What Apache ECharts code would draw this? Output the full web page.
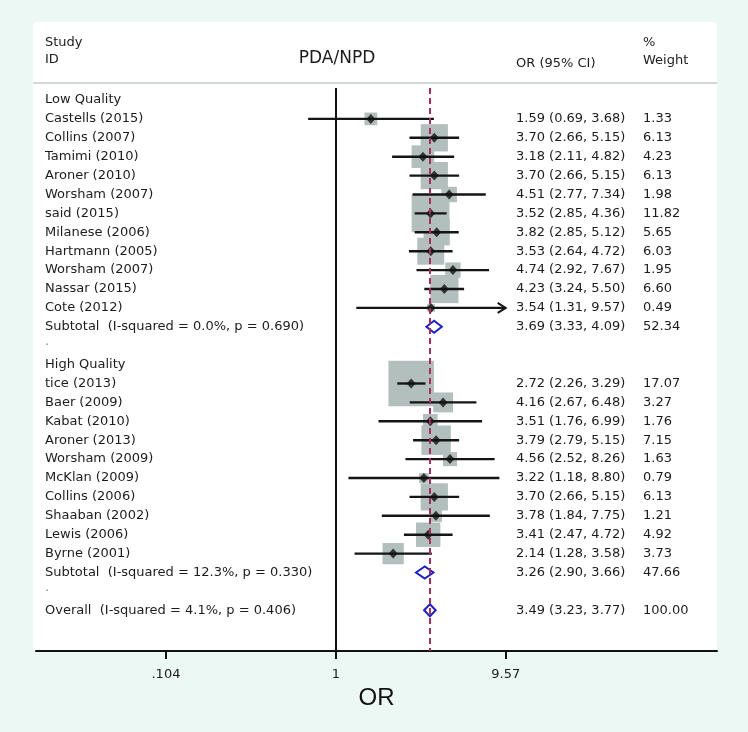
<!DOCTYPE html>
<html><head><meta charset="utf-8">
<script src="https://cdn.jsdelivr.net/npm/echarts@6/dist/echarts.min.js"></script>
<style>html,body{margin:0;padding:0;background:#ecf8f4;}#c{width:748px;height:732px;}</style>
</head><body><div id="c"></div>
<script>
// ---------- data ----------
const groupTitles = ['Low Quality', 'High Quality'];

const lowStudies = ['Castells (2015)', 'Collins (2007)', 'Tamimi (2010)', 'Aroner (2010)', 'Worsham (2007)', 'said (2015)', 'Milanese (2006)', 'Hartmann (2005)', 'Worsham (2007)', 'Nassar (2015)', 'Cote (2012)'];
const lowOR     = [1.59, 3.70, 3.18, 3.70, 4.51, 3.52, 3.82, 3.53, 4.74, 4.23, 3.54];
const lowLo     = [0.69, 2.66, 2.11, 2.66, 2.77, 2.85, 2.85, 2.64, 2.92, 3.24, 1.31];
const lowHi     = [3.68, 5.15, 4.82, 5.15, 7.34, 4.36, 5.12, 4.72, 7.67, 5.50, 9.57];
const lowWeight = [1.33, 6.13, 4.23, 6.13, 1.98, 11.82, 5.65, 6.03, 1.95, 6.60, 0.49];

const highStudies = ['tice (2013)', 'Baer (2009)', 'Kabat (2010)', 'Aroner (2013)', 'Worsham (2009)', 'McKlan (2009)', 'Collins (2006)', 'Shaaban (2002)', 'Lewis (2006)', 'Byrne (2001)'];
const highOR     = [2.72, 4.16, 3.51, 3.79, 4.56, 3.22, 3.70, 3.78, 3.41, 2.14];
const highLo     = [2.26, 2.67, 1.76, 2.79, 2.52, 1.18, 2.66, 1.84, 2.47, 1.28];
const highHi     = [3.29, 6.48, 6.99, 5.15, 8.26, 8.80, 5.15, 7.75, 4.72, 3.58];
const highWeight = [17.07, 3.27, 1.76, 7.15, 1.63, 0.79, 6.13, 1.21, 4.92, 3.73];

const subtotalLabels = ['Subtotal  (I-squared = 0.0%, p = 0.690)', 'Subtotal  (I-squared = 12.3%, p = 0.330)'];
const subtotalOR     = [3.69, 3.26];
const subtotalLo     = [3.33, 2.90];
const subtotalHi     = [4.09, 3.66];
const subtotalWeight = [52.34, 47.66];

const overallLabel  = 'Overall  (I-squared = 4.1%, p = 0.406)';
const overallOR     = 3.49;
const overallLo     = 3.23;
const overallHi     = 3.77;
const overallWeight = 100.00;

const tickValues = [0.104, 1, 9.57];
const tickLabels = ['.104', '1', '9.57'];

// ---------- build rows ----------
const L = Math.log10;
const f2 = v => v.toFixed(2);
const rows = [];
let r = 0;
function addGroup(title, names, ors, los, his, ws, sLabel, sOr, sLo, sHi, sW) {
  rows.push({row: r++, label: title, kind: 'head'});
  names.forEach((n, i) => rows.push({row: r++, label: n, kind: 'study', or: ors[i], lo: los[i], hi: his[i], w: ws[i],
    ci: f2(ors[i]) + ' (' + f2(los[i]) + ', ' + f2(his[i]) + ')', wt: f2(ws[i])}));
  rows.push({row: r++, label: sLabel, kind: 'pooled', or: sOr, lo: sLo, hi: sHi, w: sW,
    ci: f2(sOr) + ' (' + f2(sLo) + ', ' + f2(sHi) + ')', wt: f2(sW)});
  rows.push({row: r++, label: '.', kind: 'dot'});
}
addGroup(groupTitles[0], lowStudies, lowOR, lowLo, lowHi, lowWeight, subtotalLabels[0], subtotalOR[0], subtotalLo[0], subtotalHi[0], subtotalWeight[0]);
addGroup(groupTitles[1], highStudies, highOR, highLo, highHi, highWeight, subtotalLabels[1], subtotalOR[1], subtotalLo[1], subtotalHi[1], subtotalWeight[1]);
rows.push({row: r++, label: overallLabel, kind: 'pooled', or: overallOR, lo: overallLo, hi: overallHi, w: overallWeight,
  ci: f2(overallOR) + ' (' + f2(overallLo) + ', ' + f2(overallHi) + ')', wt: f2(overallWeight)});

const studyRows = rows.filter(d => d.kind === 'study');
const pooledRows = rows.filter(d => d.kind === 'pooled');

// ---------- layout ----------
const gridL = 36, gridR = 717, gridT = 88, gridB = 651;
const zeroPx = 336, pxPerDecade = 173;
const xMin = (gridL - zeroPx) / pxPerDecade, xMax = (gridR - zeroPx) / pxPerDecade;
const rowTop = 100, rowStep = 18.9;
const yMin = (gridT - rowTop) / rowStep, yMax = (gridB - rowTop) / rowStep;
const boxScale = 11;
const clipHi = Math.max.apply(null, tickValues);
const FONT = '13px "DejaVu Sans"';
const TXT = '#1c1c1c';
const labelX = 45, ciX = 516, wX = 643;

function txt(x, y, s, font, color, align) {
  return {type: 'text', x: x, y: y, style: {text: s, font: font || FONT, fill: color || TXT,
    align: align || 'left', verticalAlign: 'middle', textAlign: align || 'left', textVerticalAlign: 'middle'}};
}

const option = {
  backgroundColor: '#ecf8f4',
  animation: false,
  grid: {left: gridL, right: 748 - gridR, top: gridT, bottom: 732 - gridB, containLabel: false},
  graphic: [
    {type: 'rect', z: -100, shape: {x: 33, y: 22, width: 684, height: gridB - 22, r: 4}, style: {fill: '#ffffff'}},
    {type: 'line', z: -90, shape: {x1: 33, y1: 83, x2: 717, y2: 83}, style: {stroke: '#d2d8d7', lineWidth: 2}},
    Object.assign(txt(labelX, 43, 'Study'), {z: 10}),
    Object.assign(txt(labelX, 60, 'ID'), {z: 10}),
    Object.assign(txt(337, 59, 'PDA/NPD', '17px "DejaVu Sans"', TXT, 'center'), {z: 10}),
    Object.assign(txt(ciX, 64, 'OR (95% CI)'), {z: 10}),
    Object.assign(txt(wX, 43, '%'), {z: 10}),
    Object.assign(txt(wX, 61, 'Weight'), {z: 10})
  ],
  xAxis: {
    type: 'value', min: xMin, max: xMax,
    axisLine: {show: true, onZero: false, lineStyle: {color: '#111', width: 2}},
    axisTick: {show: true, customValues: tickValues.map(L), length: 8, lineStyle: {color: '#111', width: 2}},
    axisLabel: {show: true, customValues: tickValues.map(L), margin: 17,
      fontFamily: 'DejaVu Sans', fontSize: 13, color: TXT,
      formatter: v => { let best = 0; tickValues.forEach((t, i) => { if (Math.abs(L(t) - v) < Math.abs(L(tickValues[best]) - v)) best = i; }); return tickLabels[best]; }},
    splitLine: {show: false},
    name: 'OR', nameLocation: 'middle', nameGap: 30,
    nameTextStyle: {fontFamily: 'Liberation Sans', fontSize: 24, color: '#111'}
  },
  yAxis: {type: 'value', inverse: true, min: yMin, max: yMax, show: false},
  series: [
    {
      type: 'line', data: [], z: 1, silent: true,
      markLine: {silent: true, symbol: ['none', 'none'], label: {show: false}, animation: false,
        data: [
          {xAxis: L(1), lineStyle: {color: '#111', width: 2, type: 'solid'}},
          {xAxis: L(overallOR), lineStyle: {color: '#a3305c', width: 2, type: [6, 4]}}
        ]}
    },
    {
      type: 'scatter', z: 2, silent: true, symbol: 'rect',
      data: studyRows.map(d => [L(d.or), d.row, d.w]),
      symbolSize: v => boxScale * Math.sqrt(v[2]),
      itemStyle: {color: '#b3bfbd', opacity: 1}
    },
    {
      type: 'custom', z: 3, silent: true,
      data: studyRows.map(d => [L(d.lo), L(d.hi), d.row]),
      renderItem: (params, api) => {
        const row = api.value(2);
        const hiV = api.value(1);
        const arrow = hiV >= L(clipHi) - 1e-9;
        const p1 = api.coord([api.value(0), row]);
        const p2 = api.coord([arrow ? L(clipHi) : hiV, row]);
        const ch = [{type: 'line', shape: {x1: p1[0], y1: p1[1], x2: p2[0], y2: p2[1]}, style: {stroke: '#151515', lineWidth: 2.4}}];
        if (arrow) ch.push({type: 'polyline', shape: {points: [[p2[0] - 8, p2[1] - 5], [p2[0], p2[1]], [p2[0] - 8, p2[1] + 5]]}, style: {stroke: '#151515', lineWidth: 2, fill: null}});
        return {type: 'group', children: ch};
      }
    },
    {
      type: 'scatter', z: 4, silent: true, symbol: 'diamond', symbolSize: [9, 10],
      data: studyRows.map(d => [L(d.or), d.row]),
      itemStyle: {color: '#111'}
    },
    {
      type: 'custom', z: 4, silent: true,
      data: pooledRows.map(d => [L(d.lo), L(d.or), L(d.hi), d.row]),
      renderItem: (params, api) => {
        const row = api.value(3);
        const a = api.coord([api.value(0), row]);
        const m = api.coord([api.value(1), row]);
        const b = api.coord([api.value(2), row]);
        const h = 6;
        return {type: 'polygon', shape: {points: [[a[0], a[1]], [m[0], m[1] - h], [b[0], b[1]], [m[0], m[1] + h]]},
          style: {fill: '#ffffff', stroke: '#1f1fc4', lineWidth: 2}};
      }
    },
    {
      type: 'custom', z: 6, silent: true,
      data: rows.map(d => [0, d.row]),
      renderItem: (params, api) => {
        const d = rows[params.dataIndex];
        const y = api.coord([0, api.value(1)])[1];
        const ch = [txt(labelX, d.kind === 'dot' ? y - 4 : y, d.label, FONT, d.kind === 'dot' ? '#888' : TXT)];
        if (d.ci) ch.push(txt(ciX, y, d.ci));
        if (d.wt) ch.push(txt(wX, y, d.wt));
        return {type: 'group', children: ch};
      }
    }
  ]
};
const chart = echarts.init(document.getElementById('c'));
chart.setOption(option);
</script>
</body></html>
